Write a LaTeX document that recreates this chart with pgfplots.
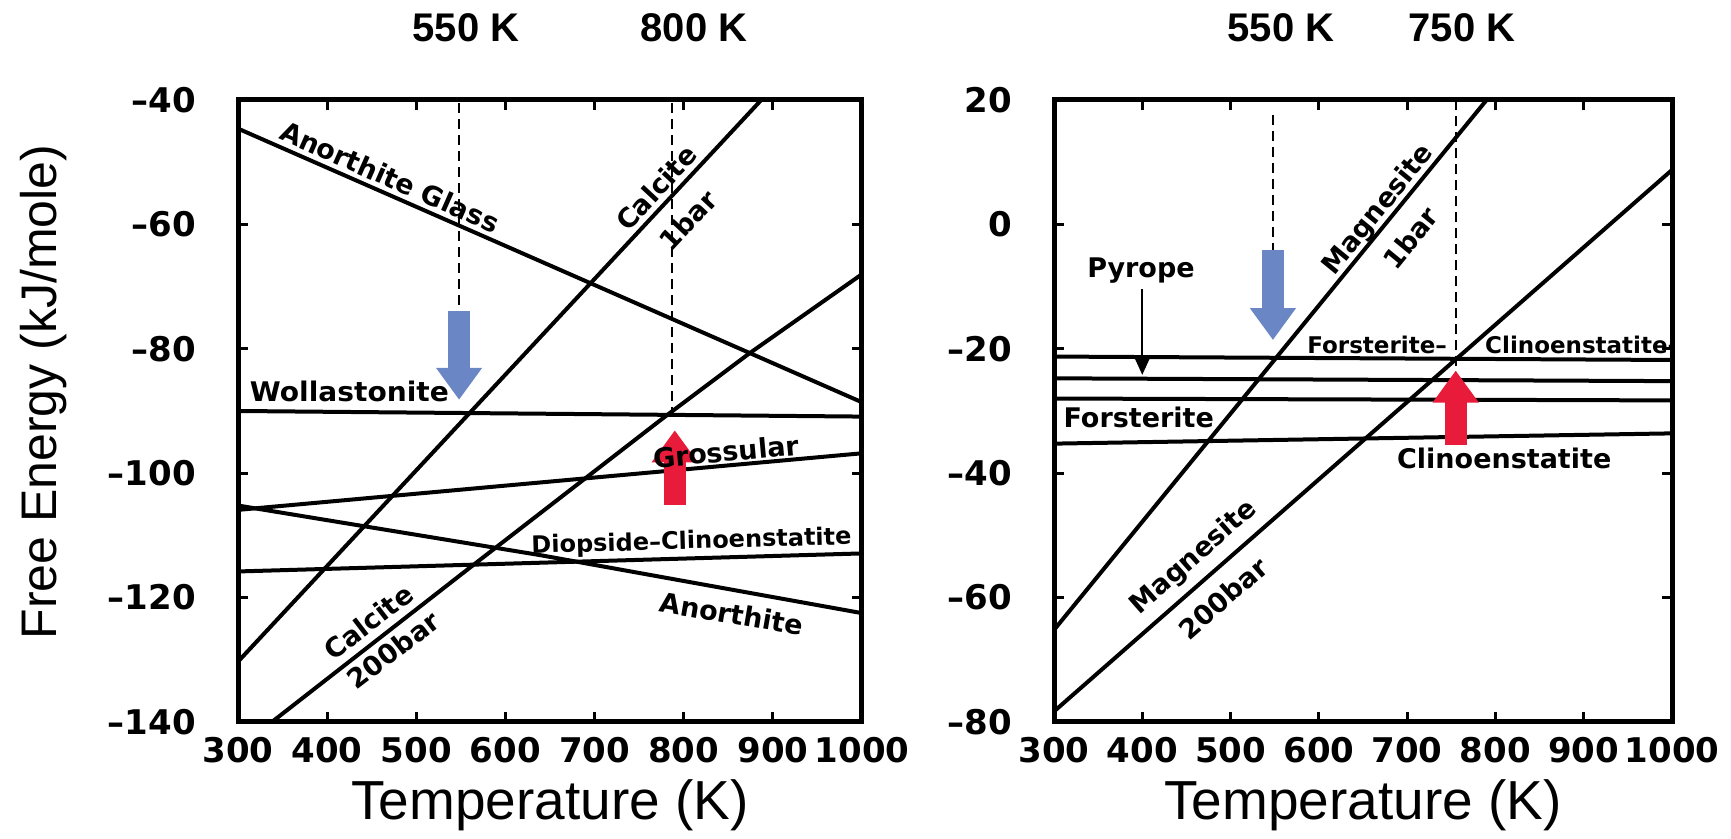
\documentclass[border=0pt]{standalone}
\usepackage{fontspec}
\setmainfont{Liberation Sans}
\newfontfamily\dv{DejaVu Sans}
\usepackage{pgfplots}
\pgfplotsset{compat=1.18}
\usetikzlibrary{arrows.meta}
\definecolor{arrblue}{RGB}{106,134,196}
\definecolor{arrred}{RGB}{232,28,58}
\tikzset{
  lbl/.style={font=\dv\bfseries\fontsize{13.5}{13.5}\selectfont, inner sep=0pt},
  lbls/.style={font=\dv\bfseries\fontsize{12}{12}\selectfont, inner sep=0pt},
  lblf/.style={font=\dv\bfseries\fontsize{11.5}{11.5}\selectfont, inner sep=0pt},
  ln/.style={black, line width=2pt, line join=round},
  dsh/.style={black, line width=0.8pt, dash pattern=on 5pt off 3pt},
  barrow/.style={line width=11pt, -{Triangle[width=22pt,length=16pt]}},
}
\pgfplotsset{
  myax/.style={
    scale only axis, height=311pt,
    anchor=south west,
    xmin=300, xmax=1000,
    xtick={300,400,...,1000},
    xticklabels={300,400,500,600,700,800,900,1000},
    tick align=inside,
    major tick length=5pt,
    tick style={line width=1.5pt, black},
    axis line style={line width=2.5pt},
    tick label style={font=\dv\bfseries\fontsize{17}{17}\selectfont},
    xticklabel style={yshift=-4.2pt},
    yticklabel style={xshift=-17.5pt},
  },
}
\begin{document}
\begin{tikzpicture}
\useasboundingbox (0pt,0pt) rectangle (865.5pt,419.5pt);

% ---------------- left panel ----------------
\begin{axis}[myax, at={(119pt,58.5pt)}, width=312pt,
  ymin=-140, ymax=-40, ytick={-140,-120,...,-40},
  yticklabels={–140,–120,–100,–80,–60,–40}]
\addplot[ln] coordinates {(300,-44.6) (1000,-88.6)};          % Anorthite Glass
\addplot[ln] coordinates {(300,-130.3) (887,-40)};            % Calcite 1bar
\addplot[ln] coordinates {(338,-140) (560,-115.2) (780,-90.8) (874,-80.7) (1000,-68)}; % Calcite 200bar
\addplot[ln] coordinates {(300,-90) (1000,-90.9)};            % Wollastonite
\addplot[ln] coordinates {(300,-105.9) (1000,-96.8)};         % Grossular
\addplot[ln] coordinates {(300,-105.2) (640,-113.2) (1000,-122.5)}; % Anorthite
\addplot[ln] coordinates {(300,-115.8) (1000,-112.9)};        % Diopside-Clinoenstatite
\addplot[dsh] coordinates {(548,-40.5) (548,-74)};
\addplot[dsh] coordinates {(787,-40.5) (787,-90.8)};
\addplot[arrblue, barrow] coordinates {(548,-73.9) (548,-88.2)};
\addplot[arrred, barrow] coordinates {(790,-105.1) (790,-93.1)};
\node[lbl, rotate=-23.8] at (axis cs:470.5,-52.4) {Anorthite Glass};
\node[lbl, rotate=47] at (axis cs:769,-54.1) {Calcite};
\node[lbl, rotate=47] at (axis cs:805,-59.3) {1bar};
\node[lbl] at (axis cs:425,-86.8) {\scalebox{1.04}[1]{Wollastonite}};
\node[lbl, rotate=5.2] at (axis cs:847.5,-96.5) {Grossular};
\node[lbls, rotate=1.65] at (axis cs:808.7,-111.1) {Diopside–Clinoenstatite};
\node[lbl, rotate=-9.6] at (axis cs:853.9,-122.6) {Anorthite};
\node[lbl, rotate=37.5] at (axis cs:446.2,-123.9) {Calcite};
\node[lbl, rotate=37.5] at (axis cs:474.3,-128.4) {200bar};
\end{axis}

% ---------------- right panel ----------------
\begin{axis}[myax, at={(527pt,58.5pt)}, width=309pt,
  ymin=-80, ymax=20, ytick={-80,-60,...,20},
  yticklabels={–80,–60,–40,–20,0,20}]
\addplot[ln] coordinates {(300,-65.2) (790,20)};              % Magnesite 1bar
\addplot[ln] coordinates {(300,-78.3) (1000,8.75)};           % Magnesite 200bar
\addplot[ln] coordinates {(300,-21.25) (1000,-21.8)};         % Forsterite-Clinoenstatite
\addplot[ln] coordinates {(300,-24.75) (1000,-25.2)};         % Pyrope
\addplot[ln] coordinates {(300,-28.0) (1000,-28.3)};          % Forsterite
\addplot[ln] coordinates {(300,-35.25) (1000,-33.6)};         % Clinoenstatite
\addplot[dsh] coordinates {(548,17.6) (548,-4.1)};
\addplot[dsh] coordinates {(755,20) (755,-28)};
\addplot[arrblue, barrow] coordinates {(548,-4.1) (548,-18.6)};
\addplot[arrred, barrow] coordinates {(755,-35.5) (755,-23.5)};
\addplot[black, line width=1pt, -{Triangle[width=7pt,length=8pt]}] coordinates {(400,-10.4) (400,-24.2)};
\node[lbl] at (axis cs:398.5,-7.5) {Pyrope};
\node[lbl, rotate=50.7] at (axis cs:667.7,2.3) {Magnesite};
\node[lbl, rotate=50.7] at (axis cs:703.7,-2.2) {1bar};
\node[lblf, anchor=base west] at (axis cs:586.5,-20.7) {Forsterite–};
\node[lblf, anchor=base west] at (axis cs:788,-20.7) {Clinoenstatite-};
\node[lbl] at (axis cs:396,-31.05) {Forsterite};
\node[lbl] at (axis cs:810,-37.7) {Clinoenstatite};
\node[lbl, rotate=41.3] at (axis cs:458.5,-53.6) {Magnesite};
\node[lbl, rotate=41.3] at (axis cs:491.7,-60.1) {200bar};
\end{axis}

% ---------------- outer text ----------------
\node[anchor=base, font=\bfseries\fontsize{20}{20}\selectfont] at (233pt,398.7pt) {550 K};
\node[anchor=base, font=\bfseries\fontsize{20}{20}\selectfont] at (347pt,398.7pt) {800 K};
\node[anchor=base, font=\bfseries\fontsize{20}{20}\selectfont] at (640.5pt,398.7pt) {550 K};
\node[anchor=base, font=\bfseries\fontsize{20}{20}\selectfont] at (731pt,398.7pt) {750 K};
\node[anchor=base, font=\fontsize{27.5}{27.5}\selectfont] at (275pt,9.5pt) {Temperature (K)};
\node[anchor=base, font=\fontsize{27.5}{27.5}\selectfont] at (681.5pt,9.5pt) {Temperature (K)};
\node[anchor=base, rotate=90, font=\fontsize{25}{25}\selectfont] at (28pt,223.5pt) {Free Energy (kJ/mole)};
\end{tikzpicture}
\end{document}
